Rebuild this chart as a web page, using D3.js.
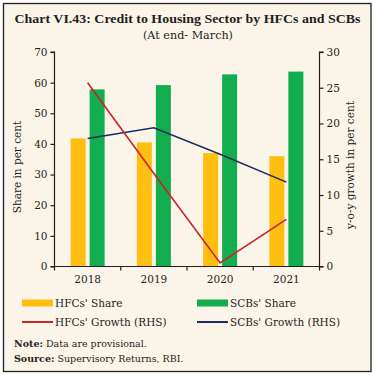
<!DOCTYPE html>
<meta charset="utf-8">
<style>
body { margin: 0; background: #fff; }
svg text { font-family: "DejaVu Serif", "Liberation Serif", serif; fill: #231f20; }
.axis path, .axis line { stroke: #231f20; stroke-width: 1.2px; }
.axis text { font-size: 10.5px; }
</style>
<body>
<svg id="chart" width="374" height="375"></svg>
<script src="https://cdn.jsdelivr.net/npm/d3@7"></script>
<script>
// data
var years = ["2018", "2019", "2020", "2021"];
var hfcShare = [41.8, 40.5, 37.0, 36.0];
var scbShare = [57.8, 59.2, 62.7, 63.6];
var hfcGrowth = [25.7, 13.0, 0.5, 6.6];
var scbGrowth = [17.9, 19.4, 15.7, 11.8];
var leftTicks = [0, 10, 20, 30, 40, 50, 60, 70];
var rightTicks = [0, 5, 10, 15, 20, 25, 30];

var svg = d3.select("#chart");
// note: "top" is taken by window.top, so plot edges get a prefix
var pLeft = 54.5, pRight = 319.5, pTop = 52, pBottom = 266.5;

svg.append("rect").attr("x", 3.5).attr("y", 3.5).attr("width", 367.5).attr("height", 368)
  .attr("fill", "#fbf4e9").attr("stroke", "#231f20").attr("stroke-width", 1.3);

svg.append("text").attr("x", 187.5).attr("y", 23).attr("text-anchor", "middle")
  .style("font-family", "'Liberation Serif', serif")
  .attr("font-weight", "bold").attr("font-size", "13px")
  .attr("textLength", 346).attr("lengthAdjust", "spacingAndGlyphs")
  .text("Chart VI.43: Credit to Housing Sector by HFCs and SCBs");
svg.append("text").attr("x", 188).attr("y", 39).attr("text-anchor", "middle")
  .attr("font-size", "11px").attr("textLength", 90).attr("lengthAdjust", "spacingAndGlyphs")
  .text("(At end- March)");

var x = d3.scaleBand().domain(years).range([pLeft, pRight]);
var yL = d3.scaleLinear().domain([0, 70]).range([pBottom, pTop]);
var yR = d3.scaleLinear().domain([0, 30]).range([pBottom, pTop]);

var barW = 15, gap = 4;

// bars
svg.selectAll(".hfc").data(years).enter().append("rect").attr("class", "hfc")
  .attr("x", function(d) { return x(d) + x.bandwidth() / 2 - gap / 2 - barW; })
  .attr("y", function(d, i) { return yL(hfcShare[i]); })
  .attr("width", barW)
  .attr("height", function(d, i) { return pBottom - yL(hfcShare[i]); })
  .attr("fill", "#ffbf10");
svg.selectAll(".scb").data(years).enter().append("rect").attr("class", "scb")
  .attr("x", function(d) { return x(d) + x.bandwidth() / 2 + gap / 2; })
  .attr("y", function(d, i) { return yL(scbShare[i]); })
  .attr("width", barW)
  .attr("height", function(d, i) { return pBottom - yL(scbShare[i]); })
  .attr("fill", "#12ad4f");

// growth lines
function lineFor(vals) {
  return d3.line()
    .x(function(d, i) { return x(years[i]) + x.bandwidth() / 2; })
    .y(function(d) { return yR(d); })(vals);
}
svg.append("path").attr("d", lineFor(scbGrowth)).attr("fill", "none")
  .attr("stroke", "#1c2d5c").attr("stroke-width", 1.6);
svg.append("path").attr("d", lineFor(hfcGrowth)).attr("fill", "none")
  .attr("stroke", "#cc2229").attr("stroke-width", 1.6);

// axes
var gl = svg.append("g").attr("class", "axis").attr("transform", "translate(" + pLeft + ",0)")
  .call(d3.axisLeft(yL).tickValues(leftTicks).tickSize(4).tickPadding(3));
var gr = svg.append("g").attr("class", "axis").attr("transform", "translate(" + pRight + ",0)")
  .call(d3.axisRight(yR).tickValues(rightTicks).tickSize(4).tickPadding(3));
var gx = svg.append("g").attr("class", "axis").attr("transform", "translate(0," + pBottom + ")")
  .call(d3.axisBottom(x).tickSize(0).tickPadding(9));
gx.select(".domain").remove();
gx.append("line").attr("x1", pLeft).attr("x2", pRight).attr("stroke", "#231f20").attr("stroke-width", 1.2);
gx.selectAll(".sep").data(d3.range(years.length + 1)).enter().append("line").attr("class", "sep")
  .attr("x1", function(d) { return pLeft + d * x.bandwidth(); })
  .attr("x2", function(d) { return pLeft + d * x.bandwidth(); })
  .attr("y1", 0).attr("y2", 4).attr("stroke", "#231f20").attr("stroke-width", 1.2);
gl.select(".domain").attr("d", "M-4," + pTop + "H0V" + pBottom + "H-4");
gr.select(".domain").attr("d", "M4," + pTop + "H0V" + pBottom + "H4");

svg.append("text").attr("transform", "translate(21,167) rotate(-90)")
  .attr("text-anchor", "middle").attr("font-size", "10.5px").text("Share in  per cent");
svg.append("text").attr("transform", "translate(354,165) rotate(-90)")
  .attr("text-anchor", "middle").attr("font-size", "10.5px").text("y-o-y growth in per cent");

// legend
var legend = [
  {label: "HFCs' Share", color: "#ffbf10", type: "bar", x: 22, y: 303},
  {label: "SCBs' Share", color: "#12ad4f", type: "bar", x: 197, y: 303},
  {label: "HFCs' Growth (RHS)", color: "#cc2229", type: "line", x: 22, y: 322},
  {label: "SCBs' Growth (RHS)", color: "#1c2d5c", type: "line", x: 197, y: 322}
];
legend.forEach(function(l) {
  if (l.type === "bar") {
    svg.append("rect").attr("x", l.x).attr("y", l.y - 3.5).attr("width", 31).attr("height", 7).attr("fill", l.color);
  } else {
    svg.append("line").attr("x1", l.x).attr("x2", l.x + 31).attr("y1", l.y).attr("y2", l.y)
      .attr("stroke", l.color).attr("stroke-width", 2);
  }
  svg.append("text").attr("x", l.x + 33).attr("y", l.y + 4).attr("font-size", "10.5px").text(l.label);
});

var note = svg.append("text").attr("x", 14).attr("y", 347).attr("font-size", "9.5px");
note.append("tspan").attr("font-weight", "bold").text("Note:");
note.append("tspan").text(" Data are provisional.");
var src = svg.append("text").attr("x", 14).attr("y", 362).attr("font-size", "9.5px");
src.append("tspan").attr("font-weight", "bold").text("Source:");
src.append("tspan").text(" Supervisory Returns, RBI.");
</script>
</body>
